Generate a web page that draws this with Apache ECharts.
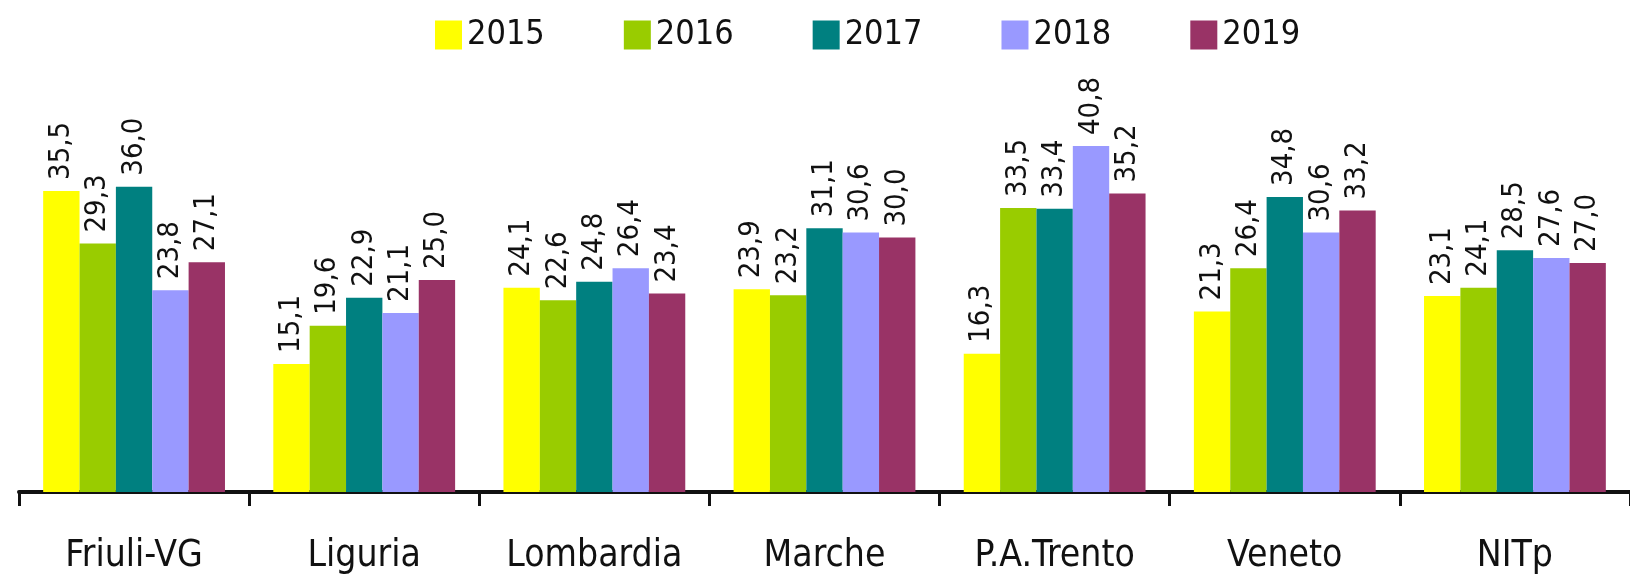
<!DOCTYPE html>
<html>
<head>
<meta charset="utf-8">
<script src="https://cdn.jsdelivr.net/npm/echarts@6/dist/echarts.min.js"></script>
<style>
html,body{margin:0;padding:0;background:#fff;}
#chart{width:1630px;height:575px;}
</style>
</head>
<body>
<div id="chart"></div>
<script>
const categories = ['Friuli-VG', 'Liguria', 'Lombardia', 'Marche', 'P.A.Trento', 'Veneto', 'NITp'];
const years = ['2015', '2016', '2017', '2018', '2019'];
const values2015 = [35.5, 15.1, 24.1, 23.9, 16.3, 21.3, 23.1];
const values2016 = [29.3, 19.6, 22.6, 23.2, 33.5, 26.4, 24.1];
const values2017 = [36.0, 22.9, 24.8, 31.1, 33.4, 34.8, 28.5];
const values2018 = [23.8, 21.1, 26.4, 30.6, 40.8, 30.6, 27.6];
const values2019 = [27.1, 25.0, 23.4, 30.0, 35.2, 33.2, 27.0];
const colors = ['#FFFF00', '#99CC00', '#008080', '#9999FF', '#993366'];

const FONT = "'DejaVu Sans Condensed', 'Liberation Sans', sans-serif";
const allValues = [values2015, values2016, values2017, values2018, values2019];

const chart = echarts.init(document.getElementById('chart'), null, {renderer: 'canvas'});
chart.setOption({
  animation: false,
  backgroundColor: '#ffffff',
  legend: {
    data: years,
    left: 430,
    top: 13,
    icon: 'rect',
    itemWidth: 27,
    itemHeight: 29,
    itemGap: 79,
    textStyle: {fontFamily: FONT, fontSize: 34, color: '#111'}
  },
  grid: {left: 19, right: -13, top: 68, bottom: 82, containLabel: false},
  xAxis: {
    type: 'category',
    data: categories,
    boundaryGap: true,
    axisLine: {show: true, lineStyle: {color: '#111', width: 4}},
    axisTick: {show: true, inside: false, length: 14, lineStyle: {color: '#111', width: 3}},
    axisLabel: {fontFamily: FONT, fontSize: 37, lineHeight: 37, color: '#111', margin: 46, interval: 0}
  },
  yAxis: {
    type: 'value', min: 0, max: 50, show: false,
    splitLine: {show: false}
  },
  series: years.map((y, i) => ({
    name: y,
    type: 'bar',
    data: allValues[i],
    barGap: '0%',
    barCategoryGap: '21%',
    itemStyle: {color: colors[i]},
    label: {
      show: true,
      position: 'top',
      rotate: 90,
      align: 'left',
      verticalAlign: 'middle',
      distance: 11,
      fontFamily: FONT,
      fontSize: 29,
      color: '#111',
      formatter: p => p.value.toFixed(1).replace('.', ',')
    }
  }))
});
</script>
</body>
</html>
